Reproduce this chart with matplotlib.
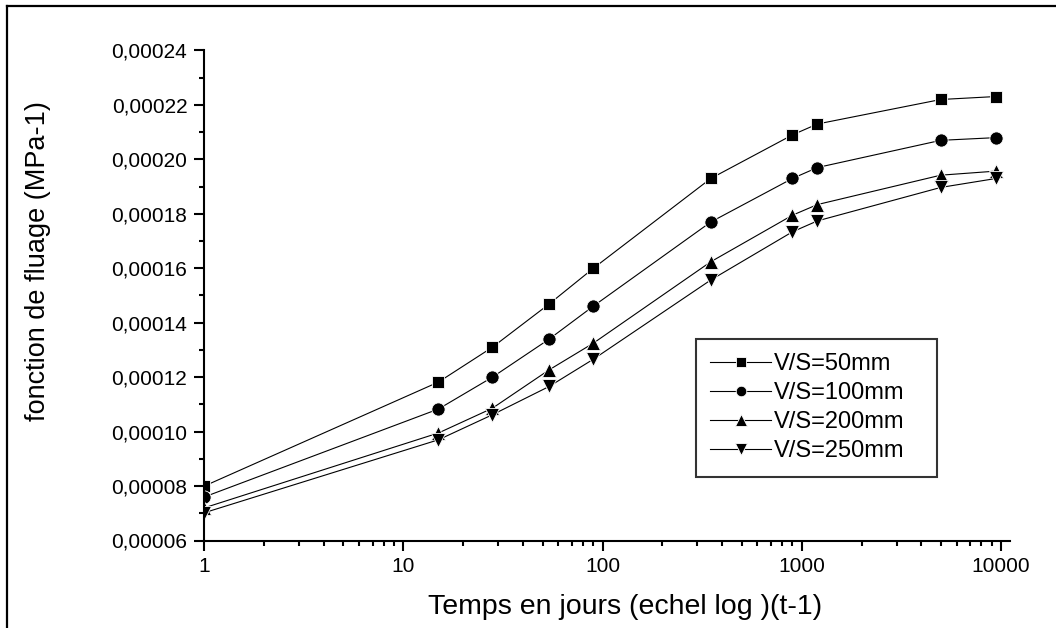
import matplotlib
matplotlib.use("Agg")
import matplotlib.pyplot as plt
from matplotlib.lines import Line2D
from matplotlib.ticker import FixedLocator, FuncFormatter, LogLocator, MultipleLocator, NullFormatter

plt.rcParams['font.family'] = ['Liberation Sans', 'DejaVu Sans']

# Data (time in days, creep function in MPa-1)
t_days = [1, 15, 28, 54, 90, 350, 900, 1200, 5000, 9500]
vs50 = [0.0000800, 0.0001182, 0.0001310, 0.0001469, 0.0001600, 0.0001930, 0.0002090, 0.0002130, 0.0002220, 0.0002231]
vs100 = [0.0000760, 0.0001083, 0.0001200, 0.0001340, 0.0001461, 0.0001770, 0.0001930, 0.0001970, 0.0002070, 0.0002080]
vs200 = [0.0000720, 0.0000995, 0.0001086, 0.0001227, 0.0001325, 0.0001624, 0.0001795, 0.0001834, 0.0001942, 0.0001957]
vs250 = [0.0000702, 0.0000970, 0.0001062, 0.0001166, 0.0001266, 0.0001557, 0.0001734, 0.0001774, 0.0001897, 0.0001930]
labels = ["V/S=50mm", "V/S=100mm", "V/S=200mm", "V/S=250mm"]
y_ticks = [0.00006, 0.00008, 0.00010, 0.00012, 0.00014, 0.00016, 0.00018, 0.00020, 0.00022, 0.00024]
x_ticks = [1, 10, 100, 1000, 10000]

W, H = 1056, 628
fig = plt.figure(figsize=(W / 100, H / 100), dpi=100)
ax = fig.add_axes([204.3 / W, 1 - 540.5 / H, (1010 - 204.3) / W, (540.5 - 50.5) / H])

series = [vs50, vs100, vs200, vs250]
markers = ['s', 'o', '^', 'v']
sizes = [9.0, 9.5, 10.5, 10.5]
for vals, m, ms, lab in zip(series, markers, sizes, labels):
    ax.plot(t_days, vals, color='black', lw=0.8, marker=m, ms=ms,
            markerfacecolor='black', markeredgecolor='white', markeredgewidth=0.6,
            label=lab)

ax.set_xscale('log')
ax.set_xlim(1, 10 ** ((1010 - 204.3) / 199.1))
ax.set_ylim(0.00006, 0.00024)

ax.xaxis.set_major_locator(FixedLocator(x_ticks))
ax.xaxis.set_major_formatter(FuncFormatter(lambda v, p: f"{int(round(v))}"))
ax.xaxis.set_minor_locator(LogLocator(base=10, subs=range(2, 10)))
ax.xaxis.set_minor_formatter(NullFormatter())
ax.yaxis.set_major_locator(FixedLocator(y_ticks))
ax.yaxis.set_major_formatter(FuncFormatter(lambda v, p: f"{v:.5f}".replace('.', ',')))
ax.yaxis.set_minor_locator(MultipleLocator(0.00001))

for s in ['top', 'right']:
    ax.spines[s].set_visible(False)
for s in ['left', 'bottom']:
    ax.spines[s].set_linewidth(1.5)

ax.tick_params(which='major', direction='out', length=7.2, width=1.5, labelsize=15, pad=5)
ax.tick_params(which='minor', direction='out', length=3.6, width=1.5)

ax.set_xlabel("Temps en jours (echel log )(t-1)", fontsize=20.5)
ax.set_ylabel("fonction de fluage (MPa-1)", fontsize=19.5)
ax.xaxis.set_label_coords((625 - 204.3) / 805.7, -(594 - 540.5) / 490)
ax.yaxis.set_label_coords((51 - 204.3) / 805.7, (540.5 - 261) / 490)

leg = ax.legend(loc='upper left',
                bbox_to_anchor=(695.7 / W, 1 - 475 / H, (937 - 695.7) / W, (475 - 339) / H),
                bbox_transform=fig.transFigure, mode='expand',
                fontsize=17, frameon=True, fancybox=False, numpoints=1,
                handlelength=2.6, handletextpad=0.1, labelspacing=0.30,
                borderpad=0.6, borderaxespad=0, markerscale=0.8)
leg.get_frame().set_edgecolor('black')
leg.get_frame().set_linewidth(1.5)

# outer frame (top and left edges visible)
fig.add_artist(Line2D([6.7 / W, 6.7 / W], [0, 1 - 5.7 / H], transform=fig.transFigure,
                      color='black', lw=1.6))
fig.add_artist(Line2D([6.7 / W, 1], [1 - 5.7 / H, 1 - 5.7 / H], transform=fig.transFigure,
                      color='black', lw=1.6))

fig.savefig("out.png", dpi=100)
